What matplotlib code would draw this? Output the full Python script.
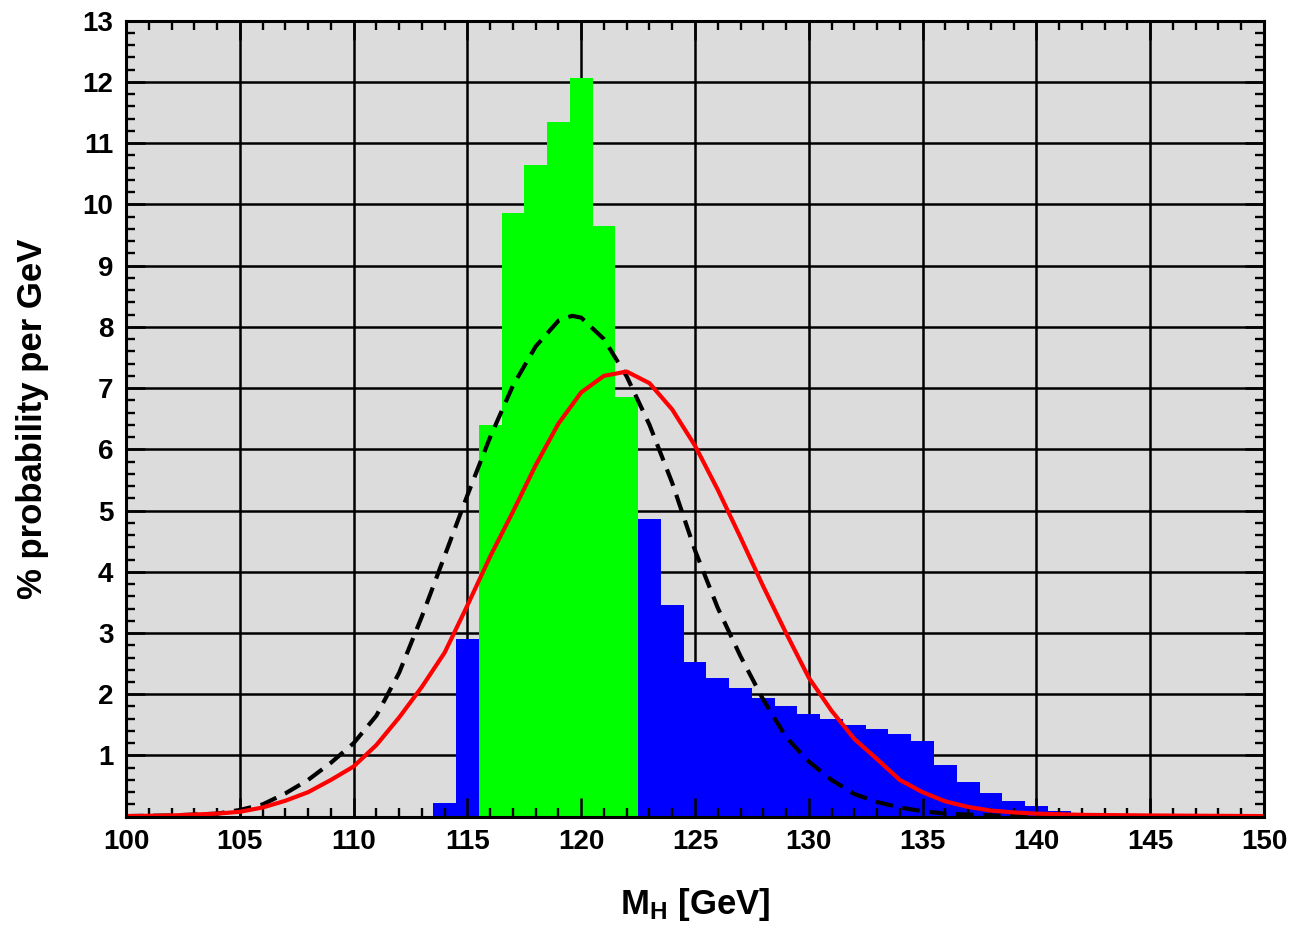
import matplotlib
matplotlib.use("Agg")
import matplotlib.pyplot as plt
from matplotlib.ticker import MultipleLocator

plt.rcParams['font.family'] = ['Liberation Sans', 'DejaVu Sans']
plt.rcParams['mathtext.fontset'] = 'custom'
plt.rcParams['mathtext.rm'] = 'Liberation Sans:bold'
plt.rcParams['mathtext.bf'] = 'Liberation Sans:bold'
plt.rcParams['mathtext.it'] = 'Liberation Sans:bold'

# Histogram bins (centres in GeV, width 1 GeV)
green_centers = [116, 117, 118, 119, 120, 121, 122]
green_values = [6.40, 9.86, 10.64, 11.35, 12.06, 9.65, 6.86]

blue_centers = [114, 115, 123, 124, 125, 126, 127, 128, 129, 130, 131, 132,
                133, 134, 135, 136, 137, 138, 139, 140, 141, 142]
blue_values = [0.23, 2.90, 4.86, 3.46, 2.53, 2.26, 2.11, 1.94, 1.81, 1.68, 1.59, 1.50,
               1.43, 1.35, 1.24, 0.85, 0.56, 0.38, 0.25, 0.17, 0.10, 0.04]

# Red solid curve
red_x = [100, 102, 104, 105, 106, 107, 108, 109, 110, 111, 112, 113, 114, 115, 116,
         117, 118, 119, 120, 121, 122, 123, 124, 125, 126, 127, 128, 129, 130, 131,
         132, 133, 134, 135, 136, 137, 138, 139, 140, 142, 145, 150]
red_y = [0.01, 0.02, 0.05, 0.08, 0.15, 0.26, 0.40, 0.60, 0.82, 1.17, 1.62, 2.12, 2.68,
         3.45, 4.25, 4.98, 5.74, 6.42, 6.93, 7.20, 7.27, 7.08, 6.65, 6.06, 5.34, 4.56,
         3.76, 3.00, 2.27, 1.73, 1.27, 0.94, 0.60, 0.40, 0.25, 0.16, 0.10, 0.07, 0.05,
         0.03, 0.02, 0.01]

# Black dashed curve
dash_x = [100, 102, 104, 105, 106, 107, 108, 109, 110, 111, 112, 113, 114, 115, 116,
          117, 118, 119, 119.6, 120, 121, 122, 123, 124, 125, 126, 127, 128, 129, 130,
          131, 132, 133, 134, 135, 136, 138, 140, 142]
dash_y = [0.01, 0.02, 0.05, 0.11, 0.20, 0.38, 0.60, 0.88, 1.20, 1.65, 2.35, 3.27, 4.26,
          5.25, 6.20, 7.04, 7.68, 8.10, 8.18, 8.15, 7.80, 7.19, 6.40, 5.45, 4.35, 3.41,
          2.62, 1.91, 1.30, 0.90, 0.60, 0.37, 0.24, 0.15, 0.09, 0.05, 0.02, 0.01, 0.0]

xticks = [100, 105, 110, 115, 120, 125, 130, 135, 140, 145, 150]
yticks = [1, 2, 3, 4, 5, 6, 7, 8, 9, 10, 11, 12, 13]

fig = plt.figure(figsize=(12.94, 9.26), dpi=100)
ax = fig.add_axes([126 / 1294, 1 - 816.7 / 926, (1264 - 126) / 1294, (816.7 - 20.7) / 926])
ax.set_facecolor('#dcdcdc')

# major grid below the bars
for xv in xticks:
    ax.axvline(xv, color='black', linewidth=1.8, zorder=1)
for yv in yticks:
    ax.axhline(yv, color='black', linewidth=1.8, zorder=1)

ax.bar(blue_centers, blue_values, width=1.0, color='#0000ff', linewidth=0, zorder=2)
ax.bar(green_centers, green_values, width=1.0, color='#00ff00', linewidth=0, zorder=2)

ax.plot(dash_x, dash_y, color='black', linewidth=3.0, dashes=(4.2, 2.3), zorder=3)
ax.plot(red_x, red_y, color='#ff0000', linewidth=3.0, zorder=4)

ax.set_xlim(100, 150)
ax.set_ylim(0, 13)
ax.set_xticks(xticks)
ax.set_yticks(yticks)
ax.set_xticklabels([str(t) for t in xticks])
ax.set_yticklabels([str(t) for t in yticks])
ax.xaxis.set_minor_locator(MultipleLocator(1))
ax.yaxis.set_minor_locator(MultipleLocator(0.2))
ax.set_axisbelow(False)

ax.tick_params(which='both', direction='in', top=True, right=True,
               labelsize=20, colors='black')
ax.tick_params(which='major', length=14, width=1.8, pad=9)
ax.tick_params(which='minor', length=6.5, width=1.7)
for lab in ax.get_xticklabels() + ax.get_yticklabels():
    lab.set_fontweight('bold')

for sp in ax.spines.values():
    sp.set_linewidth(2.2)
    sp.set_zorder(5)

ax.set_xlabel(r'M$_{\mathbf{H}}$ [GeV]', fontsize=25, fontweight='bold', labelpad=22)
ax.set_ylabel('% probability per GeV', fontsize=25, fontweight='bold', labelpad=24)

fig.savefig('out.png', dpi=100)
